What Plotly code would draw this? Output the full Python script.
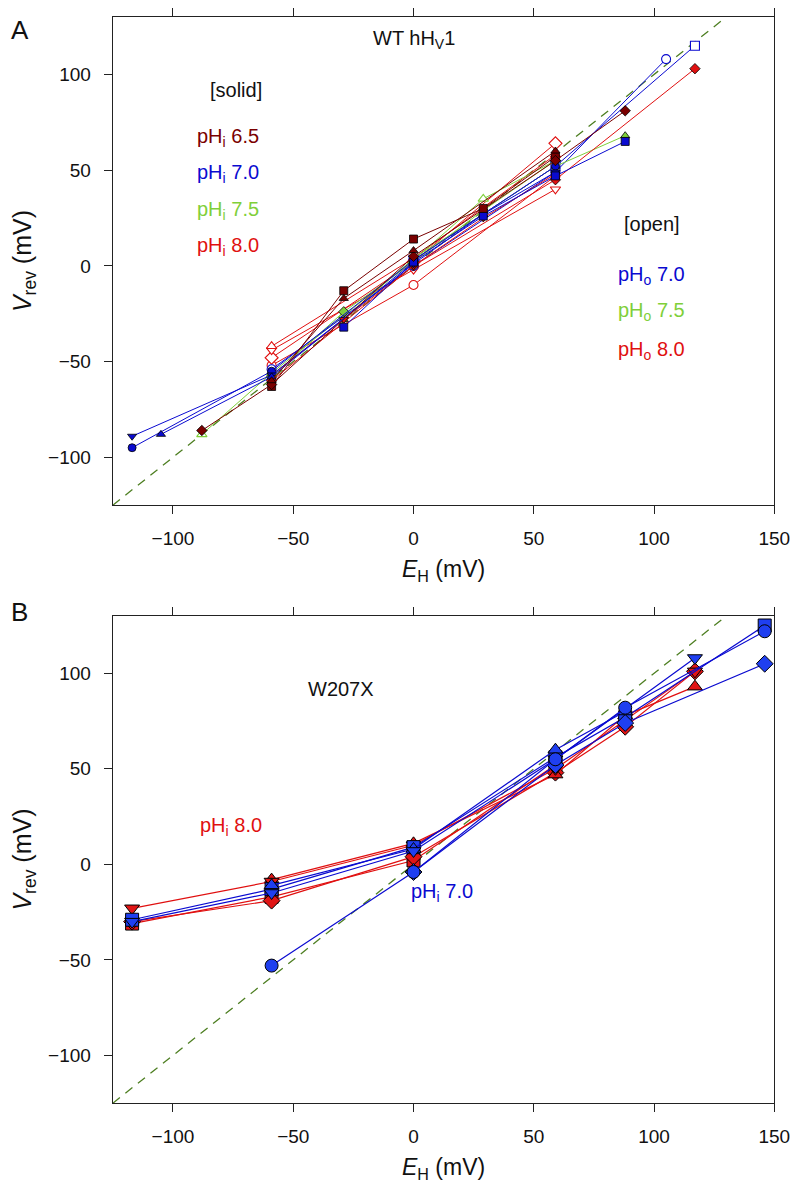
import plotly.graph_objects as go

# ---------------- Panel A data (WT hHV1) ----------------
# solid symbols: fixed pHi
a_65_sq_x = [-59, -29, 0, 29, 59];        a_65_sq_y = [-63, -13, 14, 30, 57]
a_65_di_x = [-88, -59, 0, 59, 88];        a_65_di_y = [-86, -62, 5, 55, 81]
a_65_tu_x = [-59, -29, 0, 59];            a_65_tu_y = [-60, -17, 8, 60]
a_70_ci_x = [-117, -59, 0, 59];           a_70_ci_y = [-95, -55, 3, 52]
a_70_td_x = [-117, -59, 0, 29, 59];       a_70_td_y = [-89, -57, 1, 27, 49]
a_70_tu_x = [-105, -59, 0];               a_70_tu_y = [-88, -58, 2]
a_70_sq_x = [-29, 0, 29, 59, 88];         a_70_sq_y = [-32, 2, 26, 47, 65]
a_75_di_x = [-59, -29, 0, 29, 59];        a_75_di_y = [-58, -24, 2, 29, 55]
a_75_tu_x = [-29, 0, 29, 59, 88];         a_75_tu_y = [-28, 4, 27, 52, 68]
a_80_di_x = [-59, 0, 59, 117];            a_80_di_y = [-60, 0, 45, 103]
a_80_td_x = [-59, -29, 0, 29, 59];        a_80_td_y = [-57, -28, 0, 25, 48]
# open symbols: fixed pHo
a_o70_ci_x = [-59, 0, 59, 105];           a_o70_ci_y = [-54, 0, 49, 108]
a_o70_sq_x = [0, 59, 117];                a_o70_sq_y = [3, 52, 115]
a_o75_tu_x = [-88, -59, -29, 0, 29, 59];  a_o75_tu_y = [-88, -56, -26, 3, 35, 55]
a_o80_ci_x = [-59, 0, 59];                a_o80_ci_y = [-52, -10, 47]
a_o80_di_x = [-59, 0, 59];                a_o80_di_y = [-48, 2, 64]
a_o80_td_x = [-59, 0, 59];                a_o80_td_y = [-44, -2, 40]
a_o80_tu_x = [-59, 0, 59];                a_o80_tu_y = [-42, 4, 58]

# ---------------- Panel B data (W207X) ----------------
b_70_ci_x = [-59, 0, 59, 88, 146];        b_70_ci_y = [-53, -4, 55, 82, 122]
b_70_td_x = [-117, -59, 0, 59, 117];      b_70_td_y = [-30, -15, 7, 55, 108]
b_70_tu_x = [-59, 0, 59, 88];             b_70_tu_y = [-11, 8, 60, 80]
b_70_sq_x = [-117, -59, 0, 59, 88, 146];  b_70_sq_y = [-29, -13, 9, 56, 77, 125]
b_70_di_x = [0, 59, 88, 146];             b_70_di_y = [-4, 52, 74, 105]
b_80_td_x = [-117, -59, 0, 59, 117];      b_80_td_y = [-23, -9, 10, 50, 101]
b_80_di_x = [-117, -59, 0, 59, 88, 117];  b_80_di_y = [-30, -19, 4, 48, 72, 101]
b_80_tu_x = [-59, 0, 59, 88, 117];        b_80_tu_y = [-8, 11, 47, 78, 93]
b_80_sq_x = [-117, -59, 0, 59];           b_80_sq_y = [-31, -17, 2, 52]

ident = [-125, 130]
x_ticks = [-100, -50, 0, 50, 100, 150]
y_ticks = [-100, -50, 0, 50, 100]

DRED = "#7a0000"; BLUE = "#0a0ad0"; GREEN = "#7fcf3a"; RED = "#e01010"
BFILL = "#1f3ff0"; RFILL = "#e01515"

fig = go.Figure()

def solid(x, y, color, sym, xa, ya, size=8, lw=1):
    fig.add_trace(go.Scatter(x=x, y=y, mode="lines+markers", xaxis=xa, yaxis=ya,
                             line=dict(color=color, width=lw),
                             marker=dict(symbol=sym, size=size, color=color,
                                         line=dict(color="black", width=0.8)),
                             showlegend=False, hoverinfo="skip"))

def opened(x, y, color, sym, xa, ya, size=9):
    fig.add_trace(go.Scatter(x=x, y=y, mode="lines+markers", xaxis=xa, yaxis=ya,
                             line=dict(color=color, width=1),
                             marker=dict(symbol=sym, size=size, color="white",
                                         line=dict(color=color, width=1.1)),
                             showlegend=False, hoverinfo="skip"))

# identity dashed lines
for xa, ya in (("x", "y"), ("x2", "y2")):
    fig.add_trace(go.Scatter(x=ident, y=ident, mode="lines", xaxis=xa, yaxis=ya,
                             line=dict(color="#4e7f22", width=1.3, dash="9px,7px"),
                             showlegend=False, hoverinfo="skip"))

# Panel A traces
opened(a_o80_ci_x, a_o80_ci_y, RED, "circle", "x", "y")
opened(a_o80_di_x, a_o80_di_y, RED, "diamond", "x", "y", 10)
opened(a_o80_td_x, a_o80_td_y, RED, "triangle-down", "x", "y")
opened(a_o80_tu_x, a_o80_tu_y, RED, "triangle-up", "x", "y")
opened(a_o75_tu_x, a_o75_tu_y, GREEN, "triangle-up", "x", "y")
opened(a_o70_ci_x, a_o70_ci_y, BLUE, "circle", "x", "y")
opened(a_o70_sq_x, a_o70_sq_y, BLUE, "square", "x", "y")
solid(a_75_di_x, a_75_di_y, GREEN, "diamond", "x", "y")
solid(a_75_tu_x, a_75_tu_y, GREEN, "triangle-up", "x", "y")
solid(a_80_di_x, a_80_di_y, RED, "diamond", "x", "y")
solid(a_80_td_x, a_80_td_y, RED, "triangle-down", "x", "y")
solid(a_70_ci_x, a_70_ci_y, BLUE, "circle", "x", "y")
solid(a_70_td_x, a_70_td_y, BLUE, "triangle-down", "x", "y")
solid(a_70_tu_x, a_70_tu_y, BLUE, "triangle-up", "x", "y")
solid(a_70_sq_x, a_70_sq_y, BLUE, "square", "x", "y")
solid(a_65_sq_x, a_65_sq_y, DRED, "square", "x", "y")
solid(a_65_di_x, a_65_di_y, DRED, "diamond", "x", "y")
solid(a_65_tu_x, a_65_tu_y, DRED, "triangle-up", "x", "y")

# Panel B traces
def bsolid(x, y, lc, fc, sym):
    fig.add_trace(go.Scatter(x=x, y=y, mode="lines+markers", xaxis="x2", yaxis="y2",
                             line=dict(color=lc, width=1.2),
                             marker=dict(symbol=sym, size=13, color=fc,
                                         line=dict(color="black", width=1)),
                             showlegend=False, hoverinfo="skip"))

bsolid(b_80_sq_x, b_80_sq_y, RED, RFILL, "square")
bsolid(b_80_di_x, b_80_di_y, RED, RFILL, "diamond")
bsolid(b_80_tu_x, b_80_tu_y, RED, RFILL, "triangle-up")
bsolid(b_80_td_x, b_80_td_y, RED, RFILL, "triangle-down")
bsolid(b_70_sq_x, b_70_sq_y, BLUE, BFILL, "square")
bsolid(b_70_di_x, b_70_di_y, BLUE, BFILL, "diamond")
bsolid(b_70_tu_x, b_70_tu_y, BLUE, BFILL, "triangle-up")
bsolid(b_70_td_x, b_70_td_y, BLUE, BFILL, "triangle-down")
bsolid(b_70_ci_x, b_70_ci_y, BLUE, BFILL, "circle")

H = 1187.0
def dom(top, bot):
    return [1 - bot / H, 1 - top / H]

FONT = "Liberation Sans, Arial, sans-serif"
axcommon = dict(showgrid=False, zeroline=False, showline=True, linecolor="#222",
                linewidth=1.3, ticks="outside", ticklen=8, tickcolor="#222",
                tickfont=dict(size=19, color="#111", family=FONT))

xa = dict(axcommon, range=[-125, 150], tickvals=x_ticks, mirror="ticks",
          ticklabelstandoff=8,
          title=dict(text="<i>E</i><sub>H</sub> (mV)",
                     font=dict(size=23, color="#111", family=FONT), standoff=12))
ya = dict(axcommon, range=[-125, 130], tickvals=y_ticks, mirror=True,
          ticklabelstandoff=9,
          title=dict(text="<i>V</i><sub>rev</sub> (mV)",
                     font=dict(size=25, color="#111", family=FONT), standoff=12))

fig.update_layout(
    width=798, height=1187, margin=dict(l=0, r=0, t=0, b=0),
    paper_bgcolor="white", plot_bgcolor="white",
    xaxis=dict(xa, domain=[107 / 798, 782 / 798], anchor="y"),
    yaxis=dict(ya, domain=dom(7, 496), anchor="x"),
    xaxis2=dict(xa, domain=[107 / 798, 782 / 798], anchor="y2"),
    yaxis2=dict(ya, domain=dom(607, 1095), anchor="x2"),
)

def ann(text, x, y, color, xr="x", yr="y", size=20):
    fig.add_annotation(text=text, x=x, y=y, xref=xr, yref=yr, showarrow=False,
                       font=dict(size=size, color=color, family=FONT))

ann("WT hH<sub>V</sub>1", 0, 118, "#111")
ann("[solid]", -74, 92, "#111")
ann("pH<sub>i</sub> 6.5", -77, 67, DRED)
ann("pH<sub>i</sub> 7.0", -77, 48, BLUE)
ann("pH<sub>i</sub> 7.5", -77, 29, GREEN)
ann("pH<sub>i</sub> 8.0", -77, 10, RED)
ann("[open]", 99, 22, "#111")
ann("pH<sub>o</sub> 7.0", 99, -5, BLUE)
ann("pH<sub>o</sub> 7.5", 99, -24, GREEN)
ann("pH<sub>o</sub> 8.0", 99, -44, RED)

ann("W207X", -30, 92, "#111", "x2", "y2")
ann("pH<sub>i</sub> 8.0", -76, 20, RED, "x2", "y2")
ann("pH<sub>i</sub> 7.0", 12, -15, BLUE, "x2", "y2")

fig.add_annotation(text="A", x=1 / 798, y=1 - 3 / H, xref="paper", yref="paper",
                   xanchor="left", yanchor="top", showarrow=False,
                   font=dict(size=26, color="#111", family=FONT))
fig.add_annotation(text="B", x=1 / 798, y=1 - 586 / H, xref="paper", yref="paper",
                   xanchor="left", yanchor="top", showarrow=False,
                   font=dict(size=26, color="#111", family=FONT))

fig.write_html("out.html")
